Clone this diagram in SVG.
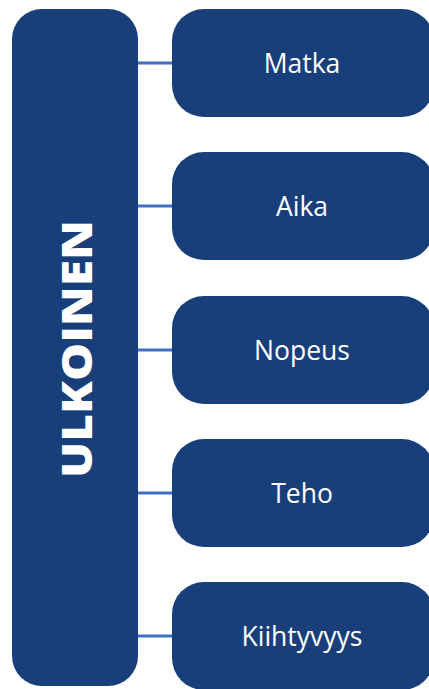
<svg xmlns="http://www.w3.org/2000/svg" width="429" height="689" viewBox="0 0 429 689">
<style>
.box{fill:#193f7b;}
.lbl{fill:#ffffff;font-family:"Open Sans","Noto Sans",sans-serif;font-size:26.5px;text-anchor:middle;dominant-baseline:central;}
.title{fill:#ffffff;font-family:"Open Sans","Noto Sans",sans-serif;font-size:42px;font-weight:800;text-anchor:middle;dominant-baseline:central;}
.conn{stroke:#3f6fc8;stroke-width:3;fill:none;}
</style>
<rect width="429" height="689" fill="#ffffff"/>
<g id="connectors">
<line class="conn" x1="137" y1="63" x2="174" y2="63"/>
<line class="conn" x1="137" y1="206" x2="174" y2="206"/>
<line class="conn" x1="137" y1="350" x2="174" y2="350"/>
<line class="conn" x1="137" y1="493" x2="174" y2="493"/>
<line class="conn" x1="137" y1="636" x2="174" y2="636"/>
</g>
<g id="ulkoinen">
<rect class="box" x="12" y="9" width="126" height="677" rx="30"/>
<text class="title" transform="translate(75,349) rotate(-90)" textLength="258" lengthAdjust="spacingAndGlyphs">ULKOINEN</text>
</g>
<g id="matka">
<rect class="box" x="172" y="9" width="262" height="108" rx="32"/>
<text class="lbl" x="302" y="63">Matka</text>
</g>
<g id="aika">
<rect class="box" x="172" y="152" width="262" height="108" rx="32"/>
<text class="lbl" x="302" y="206">Aika</text>
</g>
<g id="nopeus">
<rect class="box" x="172" y="296" width="262" height="108" rx="32"/>
<text class="lbl" x="302" y="350">Nopeus</text>
</g>
<g id="teho">
<rect class="box" x="172" y="439" width="262" height="108" rx="32"/>
<text class="lbl" x="302" y="493">Teho</text>
</g>
<g id="kiihtyvyys">
<rect class="box" x="172" y="582" width="262" height="108" rx="32"/>
<text class="lbl" x="302" y="636">Kiihtyvyys</text>
</g>
</svg>
